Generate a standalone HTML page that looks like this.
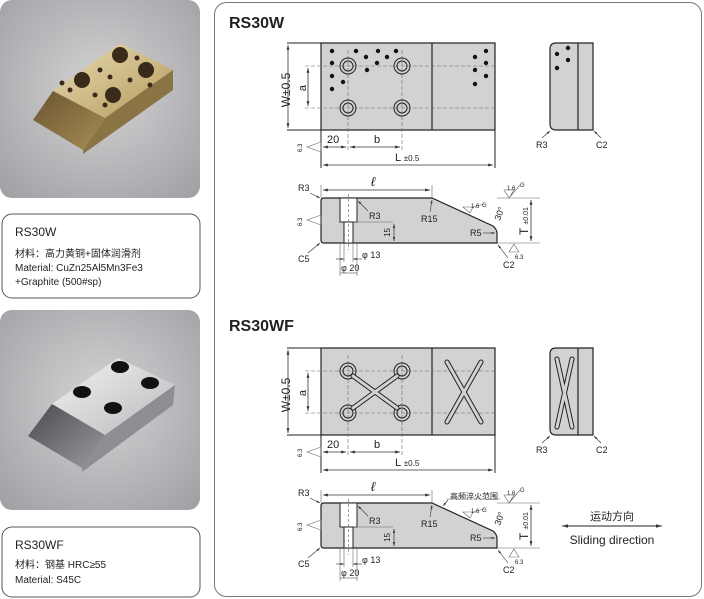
<!DOCTYPE html>
<html><head><meta charset="utf-8"><style>
html,body{margin:0;padding:0;background:#fff;width:704px;height:599px;overflow:hidden}
svg{display:block}
text{font-family:"Liberation Sans","Noto Sans CJK SC",sans-serif;fill:#222}
</style></head><body>
<svg width="704" height="599" viewBox="0 0 704 599" xmlns="http://www.w3.org/2000/svg">
<defs>
<radialGradient id="bg" cx="50%" cy="45%" r="70%"><stop offset="0" stop-color="#d4d4d6"/><stop offset="1" stop-color="#a2a2a6"/></radialGradient>
<linearGradient id="brass" x1="0" y1="0" x2="1" y2="1"><stop offset="0" stop-color="#e8dcb2"/><stop offset="1" stop-color="#b49a5c"/></linearGradient>
<linearGradient id="brass2" x1="0" y1="0" x2="1" y2="1"><stop offset="0" stop-color="#6a5530"/><stop offset="1" stop-color="#a78c55"/></linearGradient>
<linearGradient id="steel" x1="0" y1="0" x2="1" y2="1"><stop offset="0" stop-color="#f4f4f4"/><stop offset="1" stop-color="#b8b8bc"/></linearGradient>
<linearGradient id="steel2" x1="0" y1="0" x2="1" y2="1"><stop offset="0" stop-color="#4a4a4e"/><stop offset="1" stop-color="#9a9aa0"/></linearGradient>
<marker id="a" viewBox="0 0 10 10" refX="10" refY="5" markerWidth="6" markerHeight="6" orient="auto-start-reverse"><path d="M0,2L10,5L0,8z" fill="#333"/></marker>
</defs>

<!-- photo 1 -->
<rect x="0" y="0" width="200" height="198" rx="12" fill="url(#bg)"/>
<polygon points="53,91 120,43 173,70 105,118" fill="url(#brass)"/>
<polygon points="53,91 105,118 83,150 33,120" fill="url(#brass2)"/>
<polygon points="105,118 173,70 173,90 83,154 83,150" fill="#8a7444"/>
<g fill="#3a2a1a">
<circle cx="82" cy="80" r="8"/><circle cx="120" cy="55" r="8"/><circle cx="146" cy="70" r="8"/><circle cx="113" cy="95" r="8"/>
<circle cx="100" cy="70" r="2.5"/><circle cx="110" cy="77" r="2.5"/><circle cx="130" cy="80" r="2.5"/><circle cx="95" cy="95" r="2.5"/><circle cx="70" cy="90" r="2.5"/><circle cx="137" cy="58" r="2.5"/><circle cx="150" cy="85" r="2.5"/><circle cx="62" cy="83" r="2.5"/><circle cx="105" cy="105" r="2.5"/>
</g>
<rect x="2" y="214" width="198" height="84" rx="10" fill="#fff" stroke="#555" stroke-width="1"/>
<text x="15" y="236" font-size="12">RS30W</text>
<text x="15" y="257" font-size="10">材料：高力黄铜+固体润滑剂</text>
<text x="15" y="271" font-size="10">Material: CuZn25Al5Mn3Fe3</text>
<text x="15" y="285" font-size="10">+Graphite (500#sp)</text>

<!-- photo 2 -->
<rect x="0" y="310" width="200" height="200" rx="12" fill="url(#bg)"/>
<polygon points="52,404 118,358 175,385 105,435" fill="url(#steel)"/>
<polygon points="52,404 105,435 82,468 28,436" fill="url(#steel2)"/>
<polygon points="105,435 175,385 173,405 82,472 82,468" fill="#8e8e92"/>
<g fill="#111"><ellipse cx="82" cy="392" rx="9" ry="6"/><ellipse cx="120" cy="367" rx="9" ry="6"/><ellipse cx="150" cy="383" rx="9" ry="6"/><ellipse cx="113" cy="408" rx="9" ry="6"/></g>
<rect x="2" y="527" width="198" height="70" rx="10" fill="#fff" stroke="#555" stroke-width="1"/>
<text x="15" y="549" font-size="12">RS30WF</text>
<text x="15" y="568" font-size="10">材料：钢基 HRC≥55</text>
<text x="15" y="583" font-size="10">Material: S45C</text>

<!-- right frame -->
<rect x="214.5" y="2.5" width="487" height="594" rx="12" fill="#fff" stroke="#777" stroke-width="1"/>

<g id="set">
<!-- top view -->
<rect x="321" y="43" width="174" height="87" fill="#d2d2d2" stroke="#222" stroke-width="1.2"/>
<line x1="432" y1="43" x2="432" y2="130" stroke="#222" stroke-width="1.2"/>
<g stroke="#666" stroke-width="0.6" stroke-dasharray="4,2">
<line x1="305" y1="66" x2="495" y2="66"/><line x1="305" y1="108" x2="495" y2="108"/>
<line x1="348" y1="50" x2="348" y2="152"/><line x1="402" y1="50" x2="402" y2="152"/>
</g>
<g stroke="#222" stroke-width="1" fill="none" style="stroke-dasharray:none"><line x1="287" y1="43" x2="321" y2="43"/><line x1="287" y1="130" x2="321" y2="130"/><line x1="321" y1="130" x2="321" y2="168"/><line x1="495" y1="130" x2="495" y2="168"/></g>
<line x1="288" y1="45" x2="288" y2="128" stroke="#333" stroke-width="0.8" marker-start="url(#a)" marker-end="url(#a)"/>
<line x1="308" y1="68" x2="308" y2="106" stroke="#333" stroke-width="0.8" marker-start="url(#a)" marker-end="url(#a)"/>
<text transform="translate(290,90) rotate(-90)" font-size="12" text-anchor="middle">W±0.5</text>
<text transform="translate(306,88) rotate(-90)" font-size="11" text-anchor="middle">a</text>
<line x1="323" y1="147" x2="346" y2="147" stroke="#333" stroke-width="0.8" marker-start="url(#a)" marker-end="url(#a)"/>
<line x1="350" y1="147" x2="400" y2="147" stroke="#333" stroke-width="0.8" marker-start="url(#a)" marker-end="url(#a)"/>
<text x="327" y="143" font-size="11">20</text><text x="374" y="143" font-size="11">b</text>
<line x1="323" y1="165" x2="493" y2="165" stroke="#333" stroke-width="0.8" marker-start="url(#a)" marker-end="url(#a)"/>
<text x="395" y="161" font-size="11">L <tspan font-size="8">±0.5</tspan></text>
<polygon points="307,147 321,142 321,152" fill="none" stroke="#666" stroke-width="0.6"/>
<text transform="translate(302,152) rotate(-90)" font-size="6" fill="#444">6.3</text>
<!-- side view -->
<path d="M556,43 H593 V130 H556 Q550,130 550,124 V49 Q550,43 556,43 Z" fill="#d2d2d2" stroke="#222" stroke-width="1.2"/>
<line x1="578" y1="43" x2="578" y2="130" stroke="#222" stroke-width="1.2"/>
<line x1="542" y1="138" x2="550" y2="131" stroke="#333" stroke-width="0.6" marker-end="url(#a)"/>
<line x1="601" y1="138" x2="594" y2="131" stroke="#333" stroke-width="0.6" marker-end="url(#a)"/>
<text x="536" y="148" font-size="9">R3</text><text x="596" y="148" font-size="9">C2</text>
<!-- front view -->
<path d="M324,198 H432 L493,226 Q497,229 497,234 V243 H324 Q321,243 321,240 V201 Q321,198 324,198 Z" fill="#d2d2d2" stroke="#222" stroke-width="1.2"/>
<rect x="340" y="198" width="17" height="24" fill="#fff" stroke="#222" stroke-width="1"/>
<rect x="344" y="222" width="9" height="21" fill="#fff" stroke="#222" stroke-width="1"/>
<line x1="348.5" y1="194" x2="348.5" y2="250" stroke="#666" stroke-width="0.6" stroke-dasharray="3,2"/>
<line x1="432" y1="185" x2="432" y2="198" stroke="#666" stroke-width="0.6"/>
<line x1="321" y1="185" x2="321" y2="198" stroke="#666" stroke-width="0.6"/>
<line x1="323" y1="190" x2="430" y2="190" stroke="#333" stroke-width="0.8" marker-start="url(#a)" marker-end="url(#a)"/>
<text x="371" y="186" font-size="13" font-style="italic" font-family="Liberation Serif">ℓ</text>
<line x1="497" y1="198" x2="540" y2="198" stroke="#666" stroke-width="0.6"/>
<line x1="497" y1="243" x2="540" y2="243" stroke="#666" stroke-width="0.6"/>
<line x1="531" y1="200" x2="531" y2="241" stroke="#333" stroke-width="0.8" marker-start="url(#a)" marker-end="url(#a)"/>
<text transform="translate(528,235) rotate(-90)" font-size="12">T <tspan font-size="7">±0.01</tspan></text>
<line x1="353" y1="222" x2="393" y2="222" stroke="#666" stroke-width="0.6"/>
<line x1="394" y1="224" x2="394" y2="241" stroke="#333" stroke-width="0.7" marker-start="url(#a)" marker-end="url(#a)"/>
<text transform="translate(390,237) rotate(-90)" font-size="8">15</text>
<line x1="340" y1="243" x2="340" y2="276" stroke="#666" stroke-width="0.6"/>
<line x1="357" y1="243" x2="357" y2="276" stroke="#666" stroke-width="0.6"/>
<line x1="344" y1="243" x2="344" y2="262" stroke="#666" stroke-width="0.6"/>
<line x1="353" y1="243" x2="353" y2="262" stroke="#666" stroke-width="0.6"/>
<line x1="336" y1="259" x2="344" y2="259" stroke="#333" stroke-width="0.6" marker-end="url(#a)"/>
<line x1="362" y1="259" x2="353" y2="259" stroke="#333" stroke-width="0.6" marker-end="url(#a)"/>
<text x="362" y="258" font-size="9">φ 13</text>
<line x1="340" y1="273" x2="357" y2="273" stroke="#333" stroke-width="0.6"/>
<text x="341" y="271" font-size="9">φ 20</text>
<text x="298" y="191" font-size="9">R3</text><line x1="310" y1="193" x2="320" y2="198" stroke="#333" stroke-width="0.6" marker-end="url(#a)"/>
<text x="369" y="219" font-size="9">R3</text><line x1="368" y1="211" x2="358" y2="201" stroke="#333" stroke-width="0.6" marker-end="url(#a)"/>
<text x="421" y="222" font-size="9">R15</text><line x1="430" y1="212" x2="432" y2="200" stroke="#333" stroke-width="0.6" marker-end="url(#a)"/>
<text x="470" y="236" font-size="9">R5</text><line x1="483" y1="233" x2="495" y2="233" stroke="#333" stroke-width="0.6" marker-end="url(#a)"/>
<text x="298" y="262" font-size="9">C5</text><line x1="308" y1="253" x2="320" y2="243" stroke="#333" stroke-width="0.6" marker-end="url(#a)"/>
<text x="503" y="268" font-size="9">C2</text><line x1="508" y1="258" x2="498" y2="245" stroke="#333" stroke-width="0.6" marker-end="url(#a)"/>
<text transform="translate(500,221) rotate(-70)" font-size="9">30°</text>
<polygon points="307,220 321,215 321,225" fill="none" stroke="#666" stroke-width="0.6"/>
<text transform="translate(302,226) rotate(-90)" font-size="6" fill="#444">6.3</text>
<path d="M509,198 L504,190 H514 L509,198 L520,185" fill="none" stroke="#666" stroke-width="0.6"/>
<text x="507" y="190" font-size="6" fill="#444">1.6</text><text x="520" y="187" font-size="6" fill="#444">G</text>
<path d="M470,213 L463,207 H473 Z M473,207 L484,204" fill="none" stroke="#666" stroke-width="0.6"/>
<text x="471" y="208" font-size="6" fill="#444">1.6</text><text x="482" y="207" font-size="6" fill="#444">G</text>
<path d="M514,244 L519,252 H509 Z" fill="none" stroke="#666" stroke-width="0.6"/>
<text x="515" y="259" font-size="6" fill="#444">6.3</text>
</g>

<text x="229" y="28" font-size="16" font-weight="bold">RS30W</text>
<!-- RS30W holes -->
<g fill="none" stroke="#222" stroke-width="1">
<circle cx="348" cy="66" r="8"/><circle cx="348" cy="66" r="5"/><circle cx="402" cy="66" r="8"/><circle cx="402" cy="66" r="5"/>
<circle cx="348" cy="108" r="8"/><circle cx="348" cy="108" r="5"/><circle cx="402" cy="108" r="8"/><circle cx="402" cy="108" r="5"/>
</g>
<g fill="#111">
<circle cx="332" cy="51" r="2.2"/><circle cx="356" cy="51" r="2.2"/><circle cx="378" cy="51" r="2.2"/><circle cx="396" cy="51" r="2.2"/><circle cx="366" cy="57" r="2.2"/><circle cx="387" cy="57" r="2.2"/><circle cx="332" cy="63" r="2.2"/><circle cx="377" cy="63" r="2.2"/><circle cx="367" cy="70" r="2.2"/><circle cx="332" cy="76" r="2.2"/><circle cx="343" cy="82" r="2.2"/><circle cx="332" cy="89" r="2.2"/>
<circle cx="486" cy="51" r="2.2"/><circle cx="475" cy="57" r="2.2"/><circle cx="486" cy="63" r="2.2"/><circle cx="475" cy="70" r="2.2"/><circle cx="486" cy="76" r="2.2"/><circle cx="475" cy="84" r="2.2"/>
<circle cx="557" cy="54" r="2.2"/><circle cx="568" cy="48" r="2.2"/><circle cx="568" cy="60" r="2.2"/><circle cx="557" cy="68" r="2.2"/>
</g>

<use href="#set" transform="translate(0,305)"/>
<text x="229" y="331" font-size="16" font-weight="bold">RS30WF</text>
<g fill="none" stroke="#222" stroke-width="1">
<circle cx="348" cy="371" r="8"/><circle cx="348" cy="371" r="5"/><circle cx="402" cy="371" r="8"/><circle cx="402" cy="371" r="5"/>
<circle cx="348" cy="413" r="8"/><circle cx="348" cy="413" r="5"/><circle cx="402" cy="413" r="8"/><circle cx="402" cy="413" r="5"/>
</g>
<g fill="none" stroke="#222" stroke-width="5" stroke-linecap="round"><line x1="353" y1="376" x2="397" y2="408"/><line x1="397" y1="376" x2="353" y2="408"/><line x1="447" y1="362" x2="481" y2="422"/><line x1="481" y1="362" x2="447" y2="422"/><line x1="557" y1="359" x2="572" y2="427"/><line x1="572" y1="359" x2="557" y2="427"/></g>
<g fill="none" stroke="#d2d2d2" stroke-width="3" stroke-linecap="round"><line x1="353" y1="376" x2="397" y2="408"/><line x1="397" y1="376" x2="353" y2="408"/><line x1="447" y1="362" x2="481" y2="422"/><line x1="481" y1="362" x2="447" y2="422"/><line x1="557" y1="359" x2="572" y2="427"/><line x1="572" y1="359" x2="557" y2="427"/></g>
<text x="450" y="499" font-size="8">高频淬火范围</text>
<line x1="446" y1="499" x2="500" y2="499" stroke="#666" stroke-width="0.5"/>
<line x1="448" y1="500" x2="443" y2="506" stroke="#333" stroke-width="0.6" marker-end="url(#a)"/>
<text x="612" y="520" font-size="11" text-anchor="middle">运动方向</text>
<line x1="562" y1="526" x2="662" y2="526" stroke="#222" stroke-width="1" marker-start="url(#a)" marker-end="url(#a)"/>
<text x="612" y="544" font-size="12" text-anchor="middle">Sliding direction</text>
</svg>
</body></html>
